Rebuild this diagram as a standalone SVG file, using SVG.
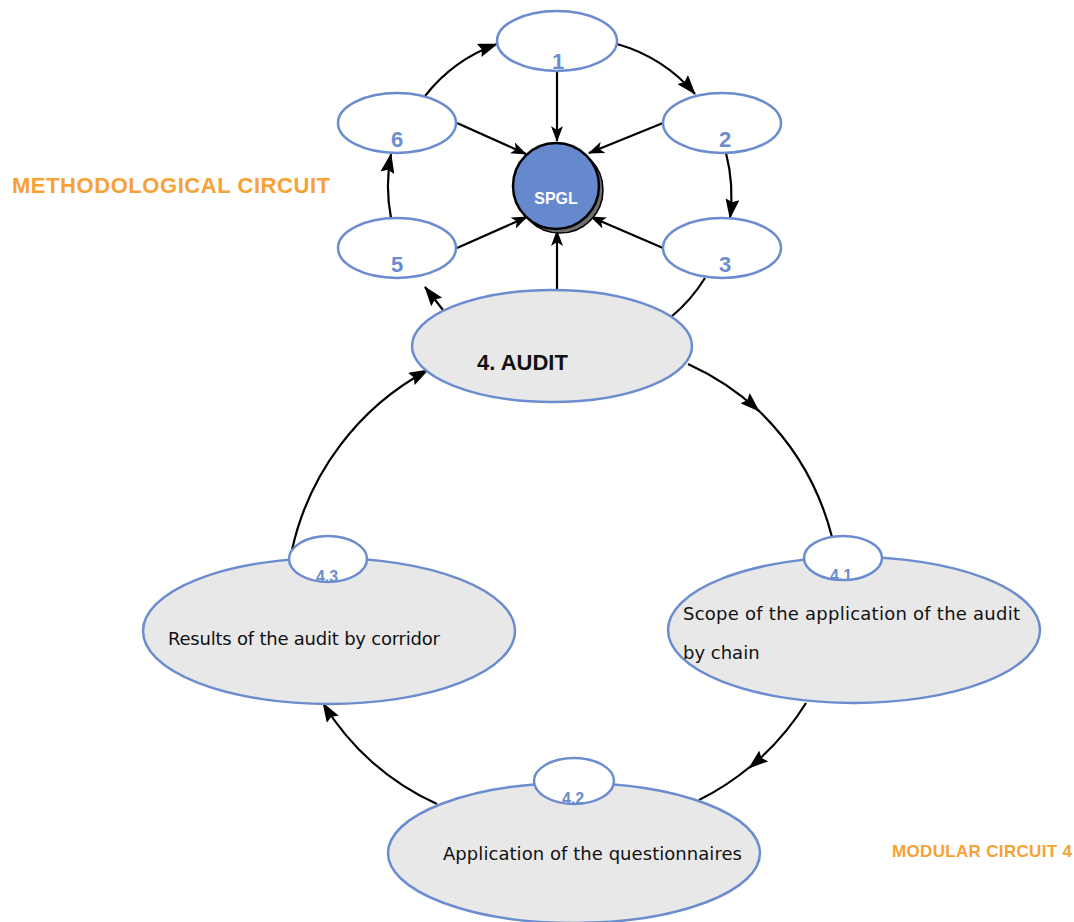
<svg xmlns="http://www.w3.org/2000/svg" width="1074" height="922" viewBox="0 0 1074 922">
  <style>
    .node { fill: #ffffff; stroke: #6B8CCE; stroke-width: 2.5; }
    .big { fill: #E8E8E8; stroke: #6B8CCE; stroke-width: 2.5; }
    .num { font-family: "Liberation Sans", Arial, sans-serif; font-weight: bold; font-size: 22px; fill: #6B8CCE; text-anchor: middle; }
    .sub { font-family: "Liberation Sans", Arial, sans-serif; font-weight: bold; font-size: 16px; fill: #6B8CCE; text-anchor: middle; }
    .body { font-family: "DejaVu Sans", "Liberation Sans", sans-serif; font-size: 18px; fill: #111111; }
    .title { font-family: "Liberation Sans", Arial, sans-serif; font-weight: bold; fill: #F7A136; }
    .conn path, .conn line { fill: none; stroke: #000000; stroke-width: 2.2; }
  </style>
  <defs>
    <marker id="arr" viewBox="0 0 20 14" refX="19" refY="7" markerWidth="20" markerHeight="14" markerUnits="userSpaceOnUse" orient="auto">
      <path d="M0,0 L20,7 L0,14 L3,7 z" fill="#000000"/>
    </marker>
    <marker id="arrS" viewBox="0 0 16 12" refX="15" refY="6" markerWidth="16" markerHeight="12" markerUnits="userSpaceOnUse" orient="auto">
      <path d="M0,0 L16,6 L0,12 L4,6 z" fill="#000000"/>
    </marker>
    <clipPath id="c41"><ellipse cx="843" cy="558" rx="39" ry="22"/></clipPath>
    <clipPath id="c42"><ellipse cx="574" cy="781" rx="40" ry="23"/></clipPath>
    <clipPath id="c43"><ellipse cx="328" cy="559" rx="39" ry="23"/></clipPath>
  </defs>

  <rect width="1074" height="922" fill="#ffffff"/>

  <!-- section titles -->
  <text class="title" x="12" y="193" font-size="22" textLength="318">METHODOLOGICAL CIRCUIT</text>
  <text class="title" x="892" y="857" font-size="17" textLength="180">MODULAR CIRCUIT 4</text>

  <!-- connectors -->
  <g id="connectors" class="conn">
    <!-- spokes into the hub -->
    <line x1="557" y1="71" x2="557" y2="141" marker-end="url(#arrS)"/>
    <line x1="663" y1="123" x2="589" y2="153" marker-end="url(#arrS)"/>
    <line x1="457" y1="123" x2="526" y2="154" marker-end="url(#arrS)"/>
    <line x1="457" y1="248" x2="527" y2="217" marker-end="url(#arrS)"/>
    <line x1="663" y1="248" x2="591" y2="217" marker-end="url(#arrS)"/>
    <line x1="557" y1="290" x2="557" y2="231" marker-end="url(#arrS)"/>
    <!-- methodological ring -->
    <path d="M425,96 A160,160 0 0,1 497,44" marker-end="url(#arr)"/>
    <path d="M617,44 A160,160 0 0,1 695,94" marker-end="url(#arr)"/>
    <path d="M726,153 A170,170 0 0,1 730,218" marker-end="url(#arr)"/>
    <path d="M391,218 A170,170 0 0,1 391,154" marker-end="url(#arr)"/>
    <path d="M705,278 A160,160 0 0,1 671,317"/>
    <line x1="443" y1="310" x2="425" y2="287" marker-end="url(#arr)"/>
    <!-- modular ring -->
    <path d="M688,364 A268,268 0 0,1 759,411" marker-end="url(#arr)"/>
    <path d="M757,409 A268,268 0 0,1 832,537"/>
    <path d="M806,703 A265,265 0 0,1 749,768" marker-end="url(#arr)"/>
    <path d="M751,766 A265,265 0 0,1 699,800"/>
    <path d="M437,804 A255,255 0 0,1 323,703" marker-end="url(#arr)"/>
    <path d="M292,550 A270,270 0 0,1 428,370" marker-end="url(#arr)"/>
  </g>

  <!-- hub -->
  <g id="hub">
    <circle cx="560" cy="190" r="43" fill="#6f6f6f" stroke="#000000" stroke-width="1.5"/>
    <circle cx="556" cy="186" r="43" fill="#6688CC" stroke="#000000" stroke-width="2.5"/>
    <text x="556" y="204" font-family="Liberation Sans, Arial, sans-serif" font-weight="bold" font-size="16" fill="#ffffff" text-anchor="middle">SPGL</text>
  </g>

  <!-- methodological steps -->
  <g id="n1"><ellipse class="node" cx="557" cy="41" rx="60" ry="30"/><text class="num" x="558" y="69">1</text></g>
  <g id="n2"><ellipse class="node" cx="722" cy="123" rx="59" ry="30"/><text class="num" x="725" y="147">2</text></g>
  <g id="n3"><ellipse class="node" cx="722" cy="248" rx="59" ry="30"/><text class="num" x="725" y="272">3</text></g>
  <g id="n5"><ellipse class="node" cx="397" cy="248" rx="59" ry="30"/><text class="num" x="397" y="272">5</text></g>
  <g id="n6"><ellipse class="node" cx="397" cy="123" rx="59" ry="30"/><text class="num" x="397" y="147">6</text></g>

  <!-- audit -->
  <g id="n4">
    <ellipse class="big" cx="552" cy="346" rx="140" ry="56"/>
    <text x="477" y="370" font-family="Liberation Sans, Arial, sans-serif" font-weight="bold" font-size="22" fill="#111111">4. AUDIT</text>
  </g>

  <!-- modular steps -->
  <g id="n41">
    <ellipse class="big" cx="854" cy="630" rx="186" ry="73"/>
    <ellipse class="node" cx="843" cy="558" rx="39" ry="22"/>
    <text class="sub" x="841" y="581" clip-path="url(#c41)">4.1</text>
    <text class="body" x="683" y="620" textLength="337">Scope of the application of the audit</text>
    <text class="body" x="683" y="659">by chain</text>
  </g>
  <g id="n42">
    <ellipse class="big" cx="574" cy="853" rx="186" ry="70"/>
    <ellipse class="node" cx="574" cy="781" rx="40" ry="23"/>
    <text class="sub" x="573" y="804" clip-path="url(#c42)">4.2</text>
    <text class="body" x="443" y="860" textLength="299">Application of the questionnaires</text>
  </g>
  <g id="n43">
    <ellipse class="big" cx="329" cy="631" rx="186" ry="73"/>
    <ellipse class="node" cx="328" cy="559" rx="39" ry="23"/>
    <text class="sub" x="327" y="582" clip-path="url(#c43)">4.3</text>
    <text class="body" x="168" y="645" textLength="272">Results of the audit by corridor</text>
  </g>
</svg>
